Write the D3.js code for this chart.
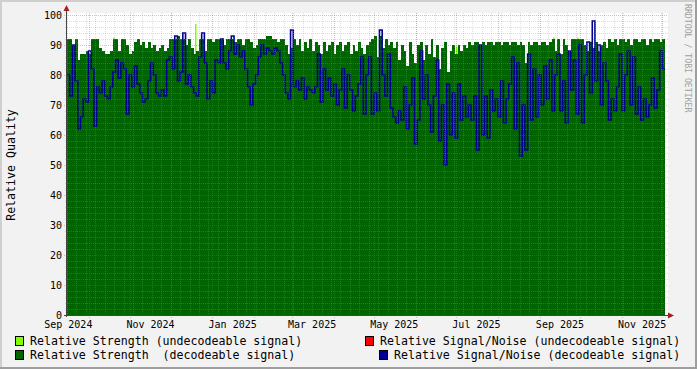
<!DOCTYPE html>
<html>
<head>
<meta charset="utf-8">
<script src="https://cdn.jsdelivr.net/npm/d3@7"></script>
<style>
body { margin: 0; background: #f2f2f2; }
svg { display: block; }
text { font-family: "DejaVu Sans Mono", monospace; fill: #000; }
</style>
</head>
<body>
<svg id="chart" width="697" height="369"></svg>
<script>
"use strict";

// one sample every two days, starting at startDate
var startDate = new Date(2024, 8, 15);
var endDate = new Date(2025, 11, 3);
var stepDays = 2;

var strength = [
    92, 92, 90, 92, 85, 87, 87, 88, 87, 92,
    92, 92, 89, 88, 87, 87, 88, 92, 92, 88,
    92, 92, 90, 87, 88, 91, 92, 90, 91, 89,
    91, 89, 90, 88, 89, 90, 88, 89, 92, 92,
    92, 93, 92, 92, 90, 92, 89, 87, 88, 92,
    92, 88, 92, 92, 91, 92, 92, 92, 90, 92,
    92, 92, 91, 92, 92, 90, 92, 92, 91, 89,
    90, 92, 92, 92, 93, 93, 92, 92, 91, 92,
    92, 90, 87, 89, 92, 90, 92, 88, 91, 89,
    92, 88, 91, 90, 87, 91, 88, 90, 91, 87,
    90, 91, 88, 90, 91, 87, 90, 88, 91, 89,
    87, 90, 91, 92, 93, 86, 93, 89, 92, 90,
    91, 89, 91, 85, 90, 88, 83, 91, 87, 84,
    90, 91, 85, 90, 87, 92, 86, 90, 82, 89,
    91, 81, 88, 90, 87, 90, 88, 90, 89, 91,
    90, 91, 91, 90, 91, 90, 91, 91, 90, 91,
    91, 90, 91, 91, 90, 91, 91, 90, 91, 90,
    84, 91, 90, 91, 91, 90, 91, 91, 90, 91,
    92, 88, 92, 87, 92, 90, 88, 92, 92, 92,
    92, 92, 90, 88, 91, 89, 91, 88, 90, 91,
    89, 92, 91, 92, 90, 92, 92, 91, 92, 90,
    92, 92, 91, 92, 92, 90, 92, 91, 92, 92,
    91, 92
];

var snr = [
    80, 73, 90, 78, 62, 66, 72, 71, 88, 82,
    63, 76, 74, 78, 73, 72, 76, 81, 85, 79,
    84, 82, 67, 80, 76, 83, 77, 74, 71, 72,
    78, 84, 80, 74, 73, 75, 73, 85, 86, 82,
    93, 78, 81, 94, 77, 80, 76, 74, 73, 86,
    94, 84, 72, 78, 74, 85, 84, 92, 84, 82,
    88, 93, 87, 90, 86, 88, 82, 76, 70, 77,
    80, 86, 90, 87, 89, 88, 87, 89, 88, 84,
    80, 74, 72, 95, 76, 78, 75, 79, 72, 76,
    75, 74, 76, 87, 71, 82, 75, 79, 73, 77,
    70, 75, 82, 69, 80, 75, 68, 73, 77, 86,
    67, 80, 86, 67, 74, 68, 95, 80, 73, 87,
    69, 66, 64, 68, 65, 76, 62, 70, 79, 57,
    65, 88, 72, 80, 70, 61, 73, 85, 58, 70,
    50, 77, 60, 74, 59, 77, 65, 73, 66, 70,
    65, 73, 55, 90, 60, 73, 59, 75, 68, 72,
    66, 78, 64, 72, 77, 86, 62, 84, 53, 70,
    55, 87, 65, 82, 66, 80, 70, 83, 72, 85,
    68, 80, 87, 68, 78, 64, 88, 75, 85, 67,
    90, 64, 80, 91, 74, 98, 78, 90, 70, 84,
    78, 65, 72, 68, 76, 87, 68, 80, 88, 70,
    86, 67, 76, 65, 72, 66, 70, 79, 69, 75,
    88, 82
];

// undecodeable signal: only a few short readings
var weakDates = ["2024-10-19", "2024-12-19", "2025-07-01", "2025-07-02", "2025-09-11", "2025-09-29"];
var weakValues = [92.5, 97, 89.5, 89, 92.5, 92.5];

var yTicks = [0, 10, 20, 30, 40, 50, 60, 70, 80, 90, 100];
var xLabels = ["Sep 2024", "Nov 2024", "Jan 2025", "Mar 2025", "May 2025", "Jul 2025", "Sep 2025", "Nov 2025"];

var legendItems = [
    { name: "Relative Strength (undecodeable signal)", color: "#80ff00", x: 15, y: 341 },
    { name: "Relative Signal/Noise (undecodeable signal)", color: "#ff0000", x: 365, y: 341 },
    { name: "Relative Strength  (decodeable signal)", color: "#006600", x: 15, y: 355 },
    { name: "Relative Signal/Noise (decodeable signal)", color: "#000094", x: 379, y: 355 }
];

var svg = d3.select("#chart");
var W = 697, H = 369;
var pLeft = 67, pRight = 665, pTop = 15, pBottom = 315;

// frame
svg.append("rect").attr("width", W).attr("height", H).attr("fill", "#f2f2f2");
svg.append("path").attr("d", "M0,0H" + W + "V2H2V" + H + "H0Z").attr("fill", "#cfcfcf");
svg.append("path").attr("d", "M" + W + "," + H + "H0V" + (H - 2) + "H" + (W - 2) + "V0H" + W + "Z").attr("fill", "#9e9e9e");

var x = d3.scaleTime().domain([startDate, endDate]).range([pLeft, pRight]);
var y = d3.scaleLinear().domain([0, 100]).range([pBottom, pTop]);

svg.append("rect").attr("x", pLeft).attr("y", pTop - 2)
    .attr("width", pRight - pLeft + 3).attr("height", pBottom - pTop + 2).attr("fill", "#fff");

function toPoints(values) {
    var pts = values.map(function (v, i) {
        return { date: d3.timeDay.offset(startDate, i * stepDays), value: v };
    });
    pts.push({ date: endDate, value: values[values.length - 1] });
    return pts;
}
var strengthPts = toPoints(strength);
var snrPts = toPoints(snr);

var parseDay = d3.timeParse("%Y-%m-%d");
var plot = svg.append("g");

// undecodeable strength, behind the decodeable area
plot.selectAll("rect.weak").data(weakDates).enter().append("rect")
    .attr("class", "weak")
    .attr("x", function (d) { return Math.round(x(parseDay(d))); })
    .attr("width", 1.5)
    .attr("y", function (d, i) { return y(weakValues[i]); })
    .attr("height", function (d, i) { return y(0) - y(weakValues[i]); })
    .attr("fill", "#80ff00");

var area = d3.area()
    .x(function (d) { return x(d.date); })
    .y0(y(0))
    .y1(function (d) { return y(d.value); })
    .curve(d3.curveStepAfter);
plot.append("path").datum(strengthPts).attr("d", area)
    .attr("fill", "#006400").attr("shape-rendering", "crispEdges");

var line = d3.line()
    .x(function (d) { return x(d.date); })
    .y(function (d) { return y(d.value); })
    .curve(d3.curveStepAfter);
plot.append("path").datum(snrPts).attr("d", line)
    .attr("fill", "none").attr("stroke", "#00008f").attr("stroke-width", 1.6);

// grid on top of the data, rrdtool style
var grid = svg.append("g").attr("shape-rendering", "crispEdges").attr("stroke-dasharray", "1,1");
var minorColor = "rgba(150,150,150,0.32)";
var majorColor = "rgba(222,60,60,0.38)";
d3.range(0, 101, 2).filter(function (v) { return v % 10 !== 0; }).forEach(function (v) {
    grid.append("line").attr("x1", pLeft - 2).attr("x2", pRight + 3)
        .attr("y1", Math.round(y(v)) + 0.5).attr("y2", Math.round(y(v)) + 0.5)
        .attr("stroke", minorColor);
});
d3.timeWeek.range(startDate, endDate).forEach(function (d) {
    grid.append("line").attr("y1", pTop - 2).attr("y2", pBottom + 2)
        .attr("x1", Math.round(x(d)) + 0.5).attr("x2", Math.round(x(d)) + 0.5)
        .attr("stroke", minorColor);
});
yTicks.forEach(function (v) {
    grid.append("line").attr("x1", pLeft - 3).attr("x2", pRight + 3)
        .attr("y1", Math.round(y(v)) + 0.5).attr("y2", Math.round(y(v)) + 0.5)
        .attr("stroke", majorColor);
});
d3.timeMonth.range(startDate, endDate).forEach(function (d) {
    grid.append("line").attr("y1", pTop - 2).attr("y2", pBottom + 3)
        .attr("x1", Math.round(x(d)) + 0.5).attr("x2", Math.round(x(d)) + 0.5)
        .attr("stroke", majorColor);
});

// axes and arrows
svg.append("line").attr("x1", pLeft - 0.5).attr("x2", pLeft - 0.5).attr("y1", pBottom + 2).attr("y2", pTop - 5)
    .attr("stroke", "#444");
svg.append("line").attr("x1", pLeft - 3).attr("x2", pRight + 3).attr("y1", pBottom + 0.5).attr("y2", pBottom + 0.5)
    .attr("stroke", "#444");
svg.append("path").attr("d", "M" + (pLeft - 3.5) + "," + (pTop - 4) + "L" + (pLeft - 0.5) + "," + (pTop - 10) + "L" + (pLeft + 2.5) + "," + (pTop - 4) + "Z")
    .attr("fill", "#a02020");
svg.append("path").attr("d", "M" + (pRight + 3) + "," + (pBottom - 2.5) + "L" + (pRight + 9) + "," + (pBottom + 0.5) + "L" + (pRight + 3) + "," + (pBottom + 3.5) + "Z")
    .attr("fill", "#a02020");

// y labels
svg.append("g").selectAll("text").data(yTicks).enter().append("text")
    .attr("x", 62).attr("y", function (d) { return y(d); })
    .attr("dy", "0.35em").attr("text-anchor", "end")
    .style("font-size", "10px")
    .text(function (d) { return d; });

// x labels, centred half a month after the 1st
var parseMonth = d3.timeParse("%b %Y");
svg.append("g").selectAll("text").data(xLabels).enter().append("text")
    .attr("x", function (d) { return x(d3.timeDay.offset(parseMonth(d), 15)); })
    .attr("y", 328).attr("text-anchor", "middle")
    .style("font-size", "10px")
    .text(function (d) { return d; });

// titles
svg.append("text").attr("transform", "translate(15,165) rotate(-90)")
    .attr("text-anchor", "middle").style("font-size", "11.6px")
    .text("Relative Quality");
svg.append("text").attr("transform", "translate(685,4) rotate(90)")
    .attr("text-anchor", "start").style("font-size", "8.2px").style("fill", "#a0a0a0")
    .text("RRDTOOL / TOBI OETIKER");

// legend
var lg = svg.append("g");
legendItems.forEach(function (it) {
    lg.append("rect").attr("x", it.x + 0.5).attr("y", it.y - 4.5).attr("width", 8).attr("height", 9)
        .attr("fill", it.color).attr("stroke", "#000").attr("stroke-width", 1);
    lg.append("text").attr("x", it.x + 15).attr("y", it.y + 4)
        .style("font-size", "11.6px").style("white-space", "pre")
        .text(it.name);
});
</script>
</body>
</html>
